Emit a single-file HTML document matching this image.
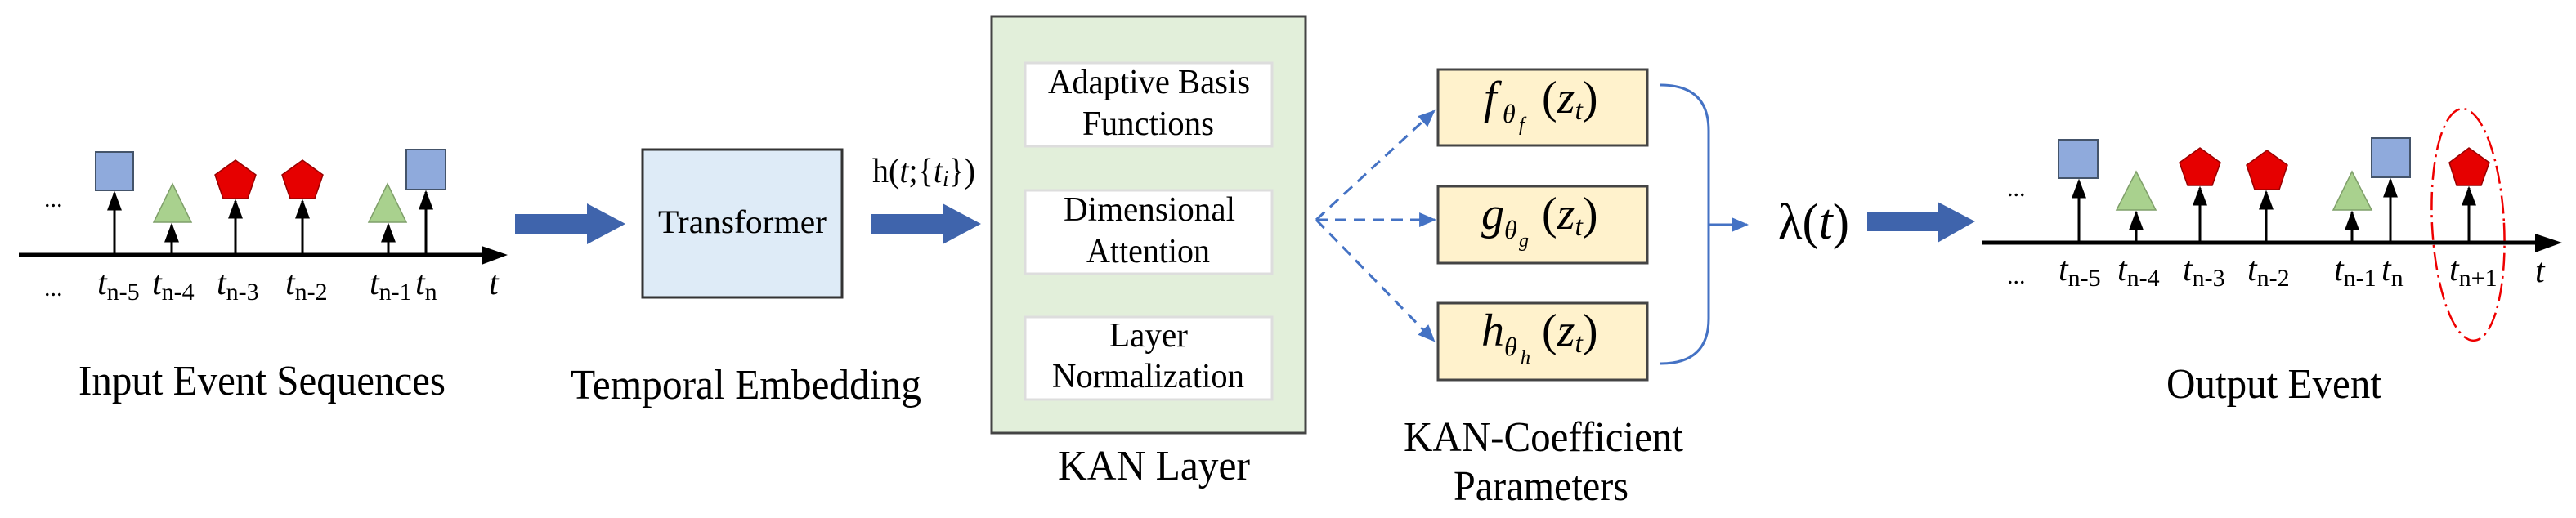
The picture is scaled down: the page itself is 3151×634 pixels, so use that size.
<!DOCTYPE html>
<html><head><meta charset="utf-8"><style>
html,body{margin:0;padding:0;background:#fff;}
svg{display:block;}
text{font-family:"Liberation Serif","DejaVu Serif",serif;fill:#000;}
</style></head><body>
<svg width="3151" height="634" viewBox="0 0 3151 634" xmlns="http://www.w3.org/2000/svg">
<defs>
<marker id="ah" viewBox="0 0 10 10" refX="9" refY="5" markerWidth="8" markerHeight="6" orient="auto" markerUnits="strokeWidth" preserveAspectRatio="none">
<path d="M0,0 L10,5 L0,10 z" fill="#000"/></marker>
<marker id="bh" viewBox="0 0 10 10" refX="9" refY="5" markerWidth="7" markerHeight="6" orient="auto" markerUnits="strokeWidth" preserveAspectRatio="none">
<path d="M0,0 L10,5 L0,10 z" fill="#4472c4"/></marker>
</defs>

<!-- LEFT TIMELINE -->
<line x1="23" y1="312" x2="595" y2="312" stroke="#000" stroke-width="5"/>
<polygon points="589,301 621,312 589,324" fill="#000"/>
<g stroke="#000" stroke-width="3" fill="none">
<line x1="140" y1="312" x2="140" y2="236" marker-end="url(#ah)"/>
<line x1="210" y1="312" x2="210" y2="275" marker-end="url(#ah)"/>
<line x1="288" y1="312" x2="288" y2="246" marker-end="url(#ah)"/>
<line x1="370" y1="312" x2="370" y2="246" marker-end="url(#ah)"/>
<line x1="475" y1="312" x2="475" y2="275" marker-end="url(#ah)"/>
<line x1="521" y1="312" x2="521" y2="235" marker-end="url(#ah)"/>
</g>
<rect x="117" y="186" width="46" height="47" fill="#8faadc" stroke="#44546a" stroke-width="2"/>
<rect x="497" y="183" width="48" height="49" fill="#8faadc" stroke="#44546a" stroke-width="2"/>
<polygon points="211,225 234,272 188,272" fill="#a9d18e" stroke="#7f9f6a" stroke-width="1.5"/>
<polygon points="474,225 497,272 451,272" fill="#a9d18e" stroke="#7f9f6a" stroke-width="1.5"/>
<polygon points="288,196 313,214 303,243 273,243 263,214" fill="#e60000" stroke="#900" stroke-width="1.5"/>
<polygon points="370,196 395,214 385,243 355,243 345,214" fill="#e60000" stroke="#900" stroke-width="1.5"/>
<text x="54" y="253" font-size="30">...</text>
<text x="54" y="362" font-size="30">...</text>
<g font-size="42">
<text x="119" y="360"><tspan font-style="italic">t</tspan><tspan font-size="30" dy="7">n-5</tspan></text>
<text x="186" y="360"><tspan font-style="italic">t</tspan><tspan font-size="30" dy="7">n-4</tspan></text>
<text x="265" y="360"><tspan font-style="italic">t</tspan><tspan font-size="30" dy="7">n-3</tspan></text>
<text x="349" y="360"><tspan font-style="italic">t</tspan><tspan font-size="30" dy="7">n-2</tspan></text>
<text x="452" y="360"><tspan font-style="italic">t</tspan><tspan font-size="30" dy="7">n-1</tspan></text>
<text x="508" y="360"><tspan font-style="italic">t</tspan><tspan font-size="30" dy="7">n</tspan></text>
<text x="598" y="360" font-style="italic">t</text>
</g>
<text x="96" y="483" font-size="52" textLength="449" lengthAdjust="spacingAndGlyphs">Input Event Sequences</text>

<!-- arrow 1 -->
<polygon points="630,262 718,262 718,249 765,274 718,299 718,287 630,287" fill="#3f64ac"/>
<!-- Transformer -->
<rect x="786" y="183" width="244" height="181" fill="#deebf7" stroke="#333" stroke-width="3"/>
<text x="805" y="285" font-size="40" textLength="206" lengthAdjust="spacingAndGlyphs">Transformer</text>
<text x="698" y="488" font-size="52" textLength="429" lengthAdjust="spacingAndGlyphs">Temporal Embedding</text>
<text x="1067" y="223" font-size="42" textLength="126" lengthAdjust="spacingAndGlyphs">h(<tspan font-style="italic">t</tspan>;{<tspan font-style="italic">t<tspan font-size="28" dy="5">i</tspan></tspan><tspan dy="-5">})</tspan></text>
<!-- arrow 2 -->
<polygon points="1065,262 1153,262 1153,249 1200,274 1153,299 1153,287 1065,287" fill="#3f64ac"/>

<!-- KAN layer -->
<rect x="1213" y="20" width="384" height="510" fill="#e2efda" stroke="#444" stroke-width="3"/>
<rect x="1254" y="77" width="302" height="102" fill="#fff" stroke="#ddd" stroke-width="3"/>
<rect x="1254" y="233" width="302" height="102" fill="#fff" stroke="#ddd" stroke-width="3"/>
<rect x="1254" y="388" width="302" height="101" fill="#fff" stroke="#ddd" stroke-width="3"/>
<g font-size="42">
<text x="1282" y="114" textLength="247" lengthAdjust="spacingAndGlyphs">Adaptive Basis</text>
<text x="1324" y="165" textLength="161" lengthAdjust="spacingAndGlyphs">Functions</text>
<text x="1301" y="270" textLength="210" lengthAdjust="spacingAndGlyphs">Dimensional</text>
<text x="1329" y="321" textLength="151" lengthAdjust="spacingAndGlyphs">Attention</text>
<text x="1357" y="424" textLength="96" lengthAdjust="spacingAndGlyphs">Layer</text>
<text x="1287" y="474" textLength="235" lengthAdjust="spacingAndGlyphs">Normalization</text>
</g>
<text x="1294" y="587" font-size="52" textLength="235" lengthAdjust="spacingAndGlyphs">KAN Layer</text>

<!-- dashed arrows -->
<g stroke="#4472c4" stroke-width="3" fill="none" stroke-dasharray="14,9">
<line x1="1610" y1="269" x2="1754" y2="136" marker-end="url(#bh)"/>
<line x1="1610" y1="269" x2="1755" y2="269" marker-end="url(#bh)"/>
<line x1="1610" y1="269" x2="1754" y2="417" marker-end="url(#bh)"/>
</g>

<!-- yellow boxes -->
<rect x="1759" y="85" width="256" height="93" fill="#fff2cc" stroke="#444" stroke-width="3"/>
<rect x="1759" y="228" width="256" height="94" fill="#fff2cc" stroke="#444" stroke-width="3"/>
<rect x="1759" y="371" width="256" height="94" fill="#fff2cc" stroke="#444" stroke-width="3"/>
<g font-style="italic">
<text x="1815" y="138" font-size="56">f</text>
<text x="1838" y="150" font-size="32">θ</text><text x="1858" y="160" font-size="24">f</text>
<text x="1812" y="280" font-size="56">g</text>
<text x="1840" y="292" font-size="32">θ</text><text x="1858" y="302" font-size="24">g</text>
<text x="1812" y="423" font-size="56">h</text>
<text x="1840" y="435" font-size="32">θ</text><text x="1860" y="445" font-size="24">h</text>
</g>
<g font-size="56">
<text x="1886" y="138">(<tspan font-style="italic">z</tspan><tspan font-style="italic" font-size="34" dy="8">t</tspan><tspan dy="-8">)</tspan></text>
<text x="1886" y="280">(<tspan font-style="italic">z</tspan><tspan font-style="italic" font-size="34" dy="8">t</tspan><tspan dy="-8">)</tspan></text>
<text x="1886" y="423">(<tspan font-style="italic">z</tspan><tspan font-style="italic" font-size="34" dy="8">t</tspan><tspan dy="-8">)</tspan></text>
</g>
<text x="1717" y="552" font-size="52" textLength="342" lengthAdjust="spacingAndGlyphs">KAN-Coefficient</text>
<text x="1778" y="612" font-size="52" textLength="214" lengthAdjust="spacingAndGlyphs">Parameters</text>

<!-- bracket -->
<path d="M2031,104 Q2090,104 2090,160 L2090,390 Q2090,445 2031,445" stroke="#4472c4" stroke-width="3" fill="none"/>
<line x1="2090" y1="275" x2="2137" y2="275" stroke="#4472c4" stroke-width="3" marker-end="url(#bh)"/>
<text x="2175" y="292" font-size="62" textLength="87" lengthAdjust="spacingAndGlyphs">λ(<tspan font-style="italic">t</tspan>)</text>

<!-- arrow 3 -->
<polygon points="2284,259 2370,259 2370,247 2416,271 2370,297 2370,283 2284,283" fill="#3f64ac"/>

<!-- RIGHT TIMELINE -->
<line x1="2424" y1="297" x2="3105" y2="297" stroke="#000" stroke-width="5"/>
<polygon points="3101,286 3134,297 3101,309" fill="#000"/>
<g stroke="#000" stroke-width="3" fill="none">
<line x1="2543" y1="297" x2="2543" y2="221" marker-end="url(#ah)"/>
<line x1="2613" y1="297" x2="2613" y2="260" marker-end="url(#ah)"/>
<line x1="2691" y1="297" x2="2691" y2="230" marker-end="url(#ah)"/>
<line x1="2772" y1="297" x2="2772" y2="235" marker-end="url(#ah)"/>
<line x1="2877" y1="297" x2="2877" y2="260" marker-end="url(#ah)"/>
<line x1="2924" y1="297" x2="2924" y2="220" marker-end="url(#ah)"/>
<line x1="3020" y1="297" x2="3020" y2="230" marker-end="url(#ah)"/>
</g>
<rect x="2518" y="171" width="48" height="47" fill="#8faadc" stroke="#44546a" stroke-width="2"/>
<rect x="2901" y="169" width="47" height="48" fill="#8faadc" stroke="#44546a" stroke-width="2"/>
<polygon points="2613,210 2637,257 2589,257" fill="#a9d18e" stroke="#7f9f6a" stroke-width="1.5"/>
<polygon points="2877,210 2901,257 2854,257" fill="#a9d18e" stroke="#7f9f6a" stroke-width="1.5"/>
<polygon points="2691,181 2716,199 2706,227 2676,227 2666,199" fill="#e60000" stroke="#900" stroke-width="1.5"/>
<polygon points="2773,184 2798,202 2788,232 2758,232 2748,202" fill="#e60000" stroke="#900" stroke-width="1.5"/>
<polygon points="3020,181 3045,199 3035,227 3005,227 2996,199" fill="#e60000" stroke="#900" stroke-width="1.5"/>
<ellipse cx="3019" cy="275" rx="44" ry="142" fill="none" stroke="#e00" stroke-width="2.5" stroke-dasharray="22,6,3,6" transform="rotate(-3 3019 275)"/>
<text x="2455" y="240" font-size="30">...</text>
<text x="2455" y="347" font-size="30">...</text>
<g font-size="42">
<text x="2518" y="343"><tspan font-style="italic">t</tspan><tspan font-size="30" dy="7">n-5</tspan></text>
<text x="2590" y="343"><tspan font-style="italic">t</tspan><tspan font-size="30" dy="7">n-4</tspan></text>
<text x="2670" y="343"><tspan font-style="italic">t</tspan><tspan font-size="30" dy="7">n-3</tspan></text>
<text x="2749" y="343"><tspan font-style="italic">t</tspan><tspan font-size="30" dy="7">n-2</tspan></text>
<text x="2855" y="343"><tspan font-style="italic">t</tspan><tspan font-size="30" dy="7">n-1</tspan></text>
<text x="2913" y="343"><tspan font-style="italic">t</tspan><tspan font-size="30" dy="7">n</tspan></text>
<text x="2996" y="343"><tspan font-style="italic">t</tspan><tspan font-size="30" dy="7">n+1</tspan></text>
<text x="3101" y="345" font-style="italic">t</text>
</g>
<text x="2650" y="487" font-size="52" textLength="263" lengthAdjust="spacingAndGlyphs">Output Event</text>
</svg>
</body></html>
